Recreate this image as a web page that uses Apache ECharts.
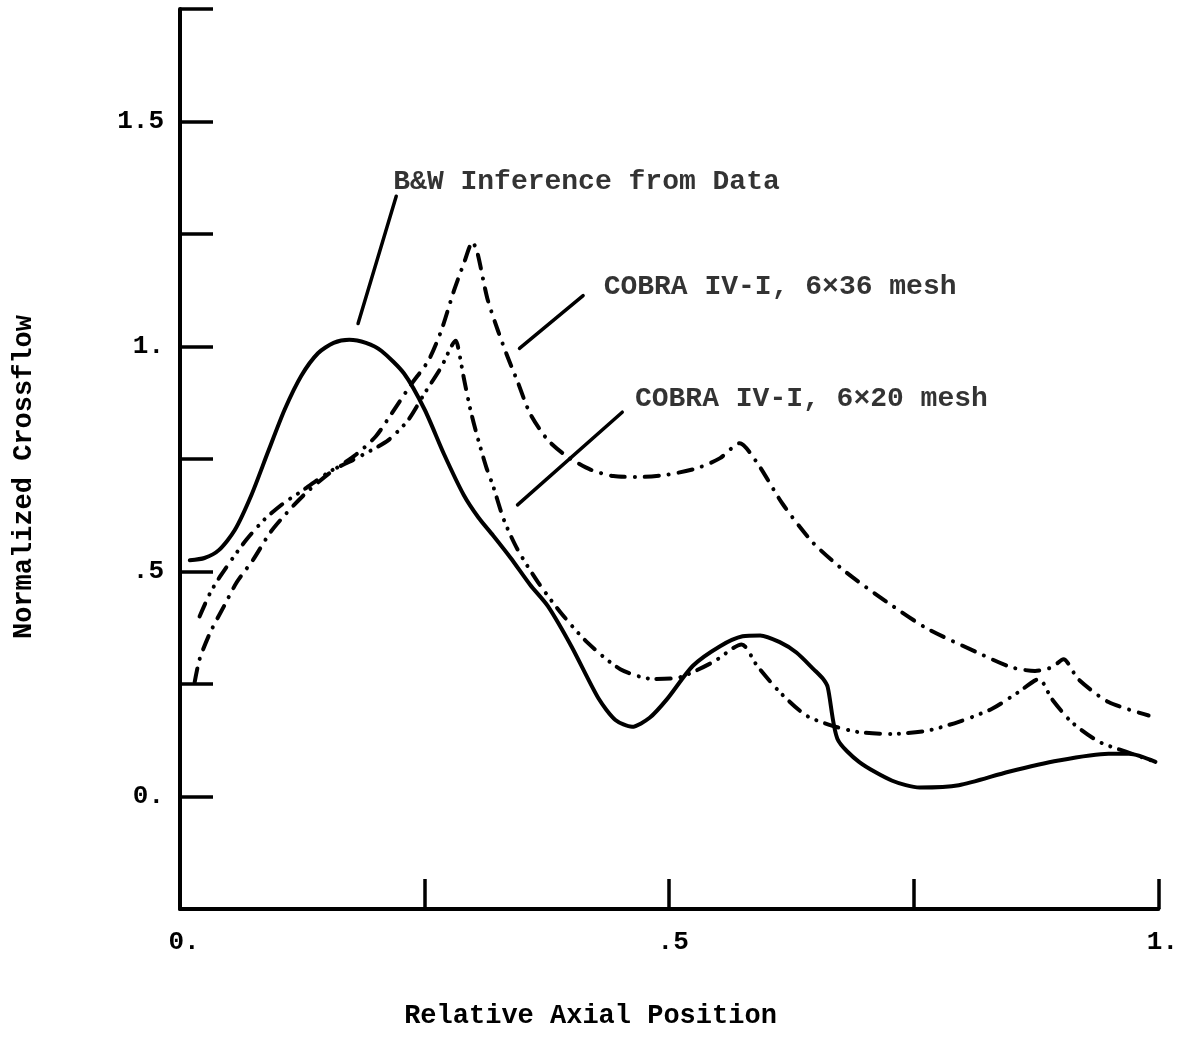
<!DOCTYPE html>
<html>
<head>
<meta charset="utf-8">
<script src="https://cdn.jsdelivr.net/npm/echarts@6/dist/echarts.min.js"></script>
<style>
html,body{margin:0;padding:0;background:#fff;}
#chart{width:1181px;height:1050px;}
</style>
</head>
<body>
<div id="chart"></div>
<script>
// ---- data (x = relative axial position, y = normalized crossflow) ----
var bwInference = [
  [0.010,0.525],[0.025,0.530],[0.040,0.548],[0.056,0.592],[0.073,0.670],
  [0.090,0.766],[0.107,0.860],[0.124,0.935],[0.141,0.985],[0.157,1.008],
  [0.173,1.015],[0.190,1.008],[0.206,0.990],[0.229,0.940],[0.250,0.860],
  [0.270,0.760],[0.290,0.670],[0.305,0.620],[0.320,0.580],[0.338,0.530],
  [0.358,0.470],[0.376,0.423],[0.400,0.334],[0.428,0.217],[0.445,0.170],
  [0.462,0.155],[0.480,0.175],[0.498,0.217],[0.524,0.290],[0.552,0.334],
  [0.575,0.356],[0.593,0.358],[0.613,0.343],[0.630,0.320],[0.648,0.282],
  [0.657,0.262],[0.662,0.243],[0.672,0.128],[0.694,0.077],[0.728,0.035],
  [0.756,0.020],[0.796,0.025],[0.847,0.055],[0.898,0.080],[0.949,0.095],
  [0.970,0.095],[0.997,0.077]
];
var cobra6x36 = [
  [0.015,0.254],[0.020,0.305],[0.031,0.365],[0.045,0.423],[0.058,0.476],
  [0.075,0.527],[0.092,0.586],[0.109,0.630],[0.129,0.675],[0.153,0.719],
  [0.180,0.760],[0.200,0.800],[0.216,0.850],[0.236,0.915],[0.254,0.969],
  [0.267,1.035],[0.280,1.124],[0.290,1.184],[0.299,1.232],[0.304,1.208],
  [0.314,1.108],[0.325,1.035],[0.335,0.976],[0.345,0.922],[0.358,0.850],
  [0.376,0.792],[0.396,0.755],[0.420,0.726],[0.443,0.712],[0.470,0.710],
  [0.498,0.715],[0.529,0.730],[0.552,0.752],[0.572,0.785],[0.590,0.741],
  [0.616,0.650],[0.647,0.564],[0.681,0.498],[0.722,0.433],[0.763,0.374],
  [0.814,0.321],[0.850,0.287],[0.874,0.279],[0.891,0.287],[0.903,0.305],
  [0.918,0.261],[0.949,0.210],[0.990,0.180]
];
var cobra6x20 = [
  [0.020,0.400],[0.031,0.453],[0.041,0.489],[0.055,0.533],[0.068,0.571],
  [0.086,0.615],[0.106,0.652],[0.126,0.681],[0.153,0.722],[0.177,0.748],
  [0.196,0.770],[0.213,0.792],[0.233,0.836],[0.250,0.896],[0.267,0.954],
  [0.282,1.013],[0.285,0.990],[0.290,0.931],[0.297,0.858],[0.304,0.799],
  [0.313,0.732],[0.320,0.690],[0.331,0.615],[0.345,0.549],[0.366,0.476],
  [0.389,0.409],[0.416,0.343],[0.450,0.283],[0.484,0.261],[0.511,0.265],
  [0.545,0.299],[0.574,0.338],[0.590,0.290],[0.613,0.232],[0.640,0.180],
  [0.667,0.157],[0.694,0.143],[0.728,0.139],[0.763,0.146],[0.796,0.166],
  [0.830,0.195],[0.857,0.232],[0.878,0.261],[0.891,0.217],[0.911,0.166],
  [0.939,0.122],[0.966,0.100],[0.997,0.077]
];
// annotation leader lines and label anchors (data coordinates)
var leaderBW   = [[0.221,1.334],[0.182,1.051]];
var leader6x36 = [[0.412,1.113],[0.347,0.996]];
var leader6x20 = [[0.452,0.854],[0.345,0.648]];
var labelTexts = ['B&W Inference from Data','COBRA IV-I, 6\u00d736 mesh','COBRA IV-I, 6\u00d720 mesh'];
var labelAnchors = [[0.218,1.365],[0.433,1.132],[0.465,0.884]];
var xTickLabels = {'0':'0.','0.5':'.5','1':'1.'};
var yTickLabels = {'0':'0.','0.5':'.5','1':'1.','1.5':'1.5'};

var FONT = "'Liberation Mono','DejaVu Sans Mono',monospace";
var INK = '#000';

var chart = echarts.init(document.getElementById('chart'), null, {renderer:'canvas'});

function curve(name, data, type){
  return {
    name:name, type:'line', data:data, smooth:0.25, symbol:'none',
    lineStyle:{color:INK, width:4, type:type, cap:'round', join:'round'},
    z:3, animation:false
  };
}
function leader(data){
  return {
    type:'line', data:data, symbol:'none', smooth:false,
    lineStyle:{color:INK, width:3.5, type:'solid', cap:'round'},
    z:4, animation:false
  };
}

var option = {
  backgroundColor:'#fff',
  animation:false,
  grid:{left:180, right:21, top:9, bottom:141, containLabel:false},
  xAxis:{
    type:'value', min:0, max:1, interval:0.25,
    axisLine:{show:true, onZero:false, lineStyle:{color:INK, width:4}},
    axisTick:{show:true, inside:true, length:30, lineStyle:{color:INK, width:3.5}},
    axisLabel:{
      show:true, margin:20, color:INK, fontFamily:FONT, fontWeight:'bold', fontSize:26,
      formatter:function(v){ var k=String(+v.toFixed(2)); return xTickLabels[k]!==undefined ? xTickLabels[k] : ''; },
      showMinLabel:true, showMaxLabel:true, padding:[0,0,0,8]
    },
    splitLine:{show:false}
  },
  yAxis:{
    type:'value', min:-0.25, max:1.75, interval:0.25,
    axisLine:{show:true, onZero:false, lineStyle:{color:INK, width:4}},
    axisTick:{show:true, inside:true, length:33, lineStyle:{color:INK, width:3.5}},
    axisLabel:{
      show:true, margin:16, color:INK, fontFamily:FONT, fontWeight:'bold', fontSize:26,
      formatter:function(v){ var k=String(+v.toFixed(2)); return yTickLabels[k]!==undefined ? yTickLabels[k] : ''; }
    },
    splitLine:{show:false}
  },
  graphic:[
    {type:'text', left:'center', top:1003, style:{text:'Relative Axial Position', font:"bold 27px "+FONT, fill:INK}},
    {type:'text', x:24, y:477, rotation:Math.PI/2,
     style:{text:'Normalized Crossflow', font:"bold 27px "+FONT, fill:INK, align:'center', verticalAlign:'middle'}}
  ],
  series:[
    curve('B&W Inference from Data', bwInference, 'solid'),
    curve('COBRA IV-I, 6x36 mesh', cobra6x36, [14,10,0.1,10]),
    curve('COBRA IV-I, 6x20 mesh', cobra6x20, [14,10,0.1,9,0.1,9]),
    leader(leaderBW), leader(leader6x36), leader(leader6x20),
    {
      type:'scatter', symbolSize:0, z:5, animation:false,
      data:labelAnchors.map(function(p,i){ return {value:p, label:{formatter:labelTexts[i]}}; }),
      label:{show:true, position:'right', distance:0, color:INK, fontFamily:FONT, fontWeight:'bold', fontSize:28, align:'left', verticalAlign:'middle'},
      emphasis:{disabled:true}
    }
  ]
};
chart.setOption(option);
</script>
</body>
</html>
